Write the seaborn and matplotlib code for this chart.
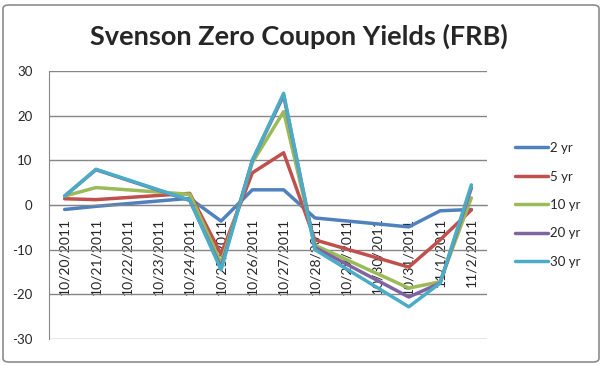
import matplotlib
matplotlib.use("Agg")
import matplotlib.pyplot as plt
import seaborn as sns
import pandas as pd
from matplotlib.patches import FancyBboxPatch

# data (weekend dates have no values)
dates = ["2011-10-20", "2011-10-21", "2011-10-24", "2011-10-25", "2011-10-26",
         "2011-10-27", "2011-10-28", "2011-10-31", "2011-11-01", "2011-11-02"]
yr2 = [-1.0, -0.3, 1.5, -3.6, 3.4, 3.4, -2.9, -4.9, -1.3, -1.0]
yr5 = [1.4, 1.2, 2.6, -11.0, 7.2, 11.7, -7.8, -13.9, -7.8, -1.1]
yr10 = [2.0, 3.9, 2.4, -13.0, 9.5, 20.9, -9.0, -18.6, -17.2, 1.6]
yr20 = [2.0, 7.9, 1.0, -14.0, 10.0, 24.5, -9.5, -20.6, -17.5, 3.8]
yr30 = [2.0, 8.0, 1.1, -14.5, 10.0, 25.0, -10.0, -22.8, -17.5, 4.5]
series_names = ["2 yr", "5 yr", "10 yr", "20 yr", "30 yr"]
colors = ["#4F81BD", "#C0504D", "#9BBB59", "#8064A2", "#4BACC6"]
y_ticks = [-30, -20, -10, 0, 10, 20, 30]

tick_dates = pd.date_range("2011-10-20", "2011-11-02")
tick_labels = [f"{d.month}/{d.day}/{d.year}" for d in tick_dates]

rows = []
for name, vals in zip(series_names, [yr2, yr5, yr10, yr20, yr30]):
    for d, v in zip(dates, vals):
        rows.append({"date": pd.Timestamp(d), "yield": v, "tenor": name})
df = pd.DataFrame(rows)

sns.set_style("white")
plt.rcParams['font.family'] = ['Lato', 'DejaVu Sans']

fig = plt.figure(figsize=(6.04, 3.65), dpi=100)
ax = fig.add_axes([49 / 604, 1 - 339 / 365, 438 / 604, 268 / 365])

sns.lineplot(data=df, x="date", y="yield", hue="tenor", hue_order=series_names,
             palette=colors, linewidth=2.5, ax=ax, legend=True)

ax.set_ylim(-30, 30)
ax.set_xlim(tick_dates[0] - pd.Timedelta(hours=12), tick_dates[-1] + pd.Timedelta(hours=12))
ax.set_yticks(y_ticks)
ax.set_yticklabels([str(t) for t in y_ticks], fontsize=9.5)
ax.set_xticks(tick_dates)
ax.set_xticklabels(tick_labels, fontsize=9.5)
ax.tick_params(axis="both", length=0)
ax.tick_params(axis="y", pad=12)
ax.tick_params(axis="x", pad=9, labelrotation=90)
for lbl in ax.get_xticklabels():
    lbl.set_rotation(90)
    lbl.set_va("top")
    lbl.set_ha("center")
ax.set_xlabel("")
ax.set_ylabel("")

ax.grid(axis="y", color="#868686", linewidth=1)
ax.grid(axis="x", visible=False)
for s in ["top", "right"]:
    ax.spines[s].set_visible(False)
ax.spines["left"].set_color("#868686")
ax.spines["bottom"].set_color("#868686")
ax.spines["bottom"].set_position(("data", 0))
ax.set_axisbelow(True)

handles, labels = ax.get_legend_handles_labels()
ax.get_legend().remove()
fig.legend(handles, labels, loc="center left", bbox_to_anchor=(503 / 604, 1 - 205 / 365),
           frameon=False, fontsize=9.5, handlelength=2.5, handletextpad=0.15,
           labelspacing=1.25)

fig.suptitle("Svenson Zero Coupon Yields (FRB)", fontsize=19.5, fontweight="bold",
             x=0.495, y=1 - 36 / 365, va="center")

border = FancyBboxPatch((3 / 604, 3 / 365), 596 / 604, 357 / 365,
                        boxstyle="round,pad=0,rounding_size=0.01",
                        transform=fig.transFigure, fill=False,
                        edgecolor="#8c8c8c", linewidth=1.2)
fig.patches.append(border)

fig.savefig("out.png", dpi=100)
